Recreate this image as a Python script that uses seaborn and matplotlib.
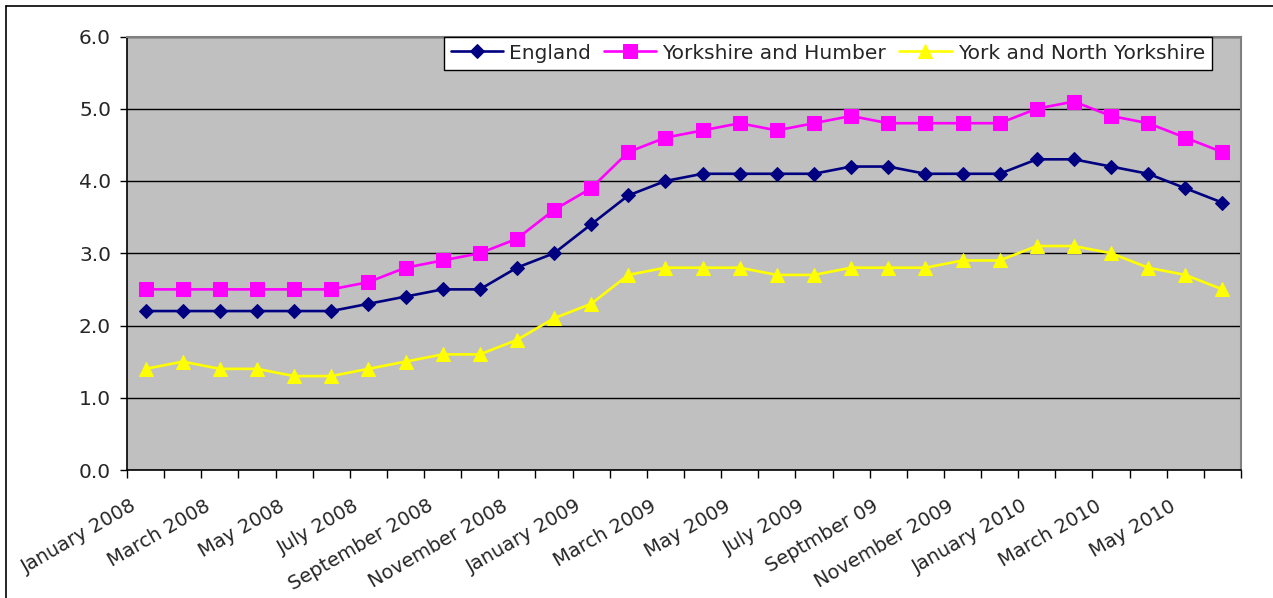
import matplotlib
matplotlib.use("Agg")

import numpy as np
import pandas as pd
import matplotlib.pyplot as plt
import seaborn as sns
from matplotlib.lines import Line2D
from matplotlib.ticker import FixedLocator, FormatStrFormatter

# ------------------------------------------------------------------
# Data
# ------------------------------------------------------------------
months = [
    "Jan 2008", "Feb 2008", "Mar 2008", "Apr 2008", "May 2008", "Jun 2008",
    "Jul 2008", "Aug 2008", "Sep 2008", "Oct 2008", "Nov 2008", "Dec 2008",
    "Jan 2009", "Feb 2009", "Mar 2009", "Apr 2009", "May 2009", "Jun 2009",
    "Jul 2009", "Aug 2009", "Sep 2009", "Oct 2009", "Nov 2009", "Dec 2009",
    "Jan 2010", "Feb 2010", "Mar 2010", "Apr 2010", "May 2010", "Jun 2010",
]
tick_labels = [
    "January 2008", "March 2008", "May 2008", "July 2008", "September 2008",
    "November 2008", "January 2009", "March 2009", "May 2009", "July 2009",
    "Septmber 09", "November 2009", "January 2010", "March 2010", "May 2010",
]
england = [2.2, 2.2, 2.2, 2.2, 2.2, 2.2, 2.3, 2.4, 2.5, 2.5, 2.8, 3.0,
           3.4, 3.8, 4.0, 4.1, 4.1, 4.1, 4.1, 4.2, 4.2, 4.1, 4.1, 4.1,
           4.3, 4.3, 4.2, 4.1, 3.9, 3.7]
yorkshire_humber = [2.5, 2.5, 2.5, 2.5, 2.5, 2.5, 2.6, 2.8, 2.9, 3.0, 3.2, 3.6,
                    3.9, 4.4, 4.6, 4.7, 4.8, 4.7, 4.8, 4.9, 4.8, 4.8, 4.8, 4.8,
                    5.0, 5.1, 4.9, 4.8, 4.6, 4.4]
york_north = [1.4, 1.5, 1.4, 1.4, 1.3, 1.3, 1.4, 1.5, 1.6, 1.6, 1.8, 2.1,
              2.3, 2.7, 2.8, 2.8, 2.8, 2.7, 2.7, 2.8, 2.8, 2.8, 2.9, 2.9,
              3.1, 3.1, 3.0, 2.8, 2.7, 2.5]

series = {
    "England": england,
    "Yorkshire and Humber": yorkshire_humber,
    "York and North Yorkshire": york_north,
}
styles = {
    "England": dict(color="#000080", marker="D", markersize=6.8),
    "Yorkshire and Humber": dict(color="#FF00FF", marker="s", markersize=9.5),
    "York and North Yorkshire": dict(color="#FFFF00", marker="^", markersize=10.5),
}

frames = []
for name, vals in series.items():
    frames.append(pd.DataFrame({"pos": range(len(months)), "Month": months,
                                "Rate": vals, "Area": name}))
df = pd.concat(frames, ignore_index=True)

# ------------------------------------------------------------------
# Plot
# ------------------------------------------------------------------
sns.set_theme(style="white")
plt.rcParams["font.family"] = ["DejaVu Sans"]
FS = 14.5

fig = plt.figure(figsize=(12.73, 5.98), dpi=100)
ax = fig.add_axes([127 / 1273, 1 - 470 / 598, (1241 - 127) / 1273, (470 - 36.5) / 598])
ax.set_facecolor("#C0C0C0")

for name in series:
    st = styles[name]
    sns.lineplot(
        data=df[df["Area"] == name], x="pos", y="Rate", ax=ax,
        color=st["color"], marker=st["marker"], markersize=st["markersize"],
        markeredgecolor=st["color"], linewidth=1.9, label=name, sort=False,
    )

ax.set_xlim(-0.5, len(months) - 0.5)
ax.set_ylim(0, 6)
ax.set_yticks([0, 1, 2, 3, 4, 5, 6])
ax.yaxis.set_major_formatter(FormatStrFormatter("%.1f"))
ax.grid(axis="y", color="#000000", linewidth=1.0)
ax.set_axisbelow(True)
ax.set_xlabel("")
ax.set_ylabel("")

# category ticks at boundaries; labels every other month, nudged left
# the way Excel anchors rotated category labels
label_pos = np.arange(0, len(months), 2) - 0.42
ax.set_xticks(label_pos)
ax.set_xticklabels(tick_labels, rotation=30, ha="right", rotation_mode="anchor",
                   fontsize=14)
ax.xaxis.set_minor_locator(FixedLocator([i - 0.5 for i in range(len(months) + 1)]))
ax.tick_params(axis="x", which="major", length=0, pad=19)
ax.tick_params(axis="x", which="minor", length=6, width=1, color="#000000",
               direction="out", bottom=True)
ax.tick_params(axis="y", length=5, width=1, color="#000000", direction="out",
               left=True, labelsize=FS, pad=6.5)

for side in ["left", "bottom"]:
    ax.spines[side].set_color("#000000")
    ax.spines[side].set_linewidth(1.2)
for side in ["top", "right"]:
    ax.spines[side].set_color("#808080")
    ax.spines[side].set_linewidth(1.5)

leg = ax.legend(
    loc="upper right", bbox_to_anchor=((1212 - 127) / (1241 - 127), 1.0),
    borderaxespad=0, ncol=3, fontsize=FS, frameon=True, fancybox=False,
    handlelength=2.6, handletextpad=0.3, columnspacing=0.65,
    borderpad=0.35,
)
leg.get_frame().set_edgecolor("#000000")
leg.get_frame().set_linewidth(1.0)
leg.get_frame().set_facecolor("#FFFFFF")
leg.get_frame().set_alpha(1.0)

# outer chart frame (left and top edges visible)
fig.add_artist(Line2D([6 / 1273, 6 / 1273], [0, 1 - 6 / 598],
                      transform=fig.transFigure, color="#000000", linewidth=1.2))
fig.add_artist(Line2D([6 / 1273, 1], [1 - 6 / 598, 1 - 6 / 598],
                      transform=fig.transFigure, color="#000000", linewidth=1.2))

fig.savefig("out.png", dpi=100, facecolor="white")
plt.close("all")
